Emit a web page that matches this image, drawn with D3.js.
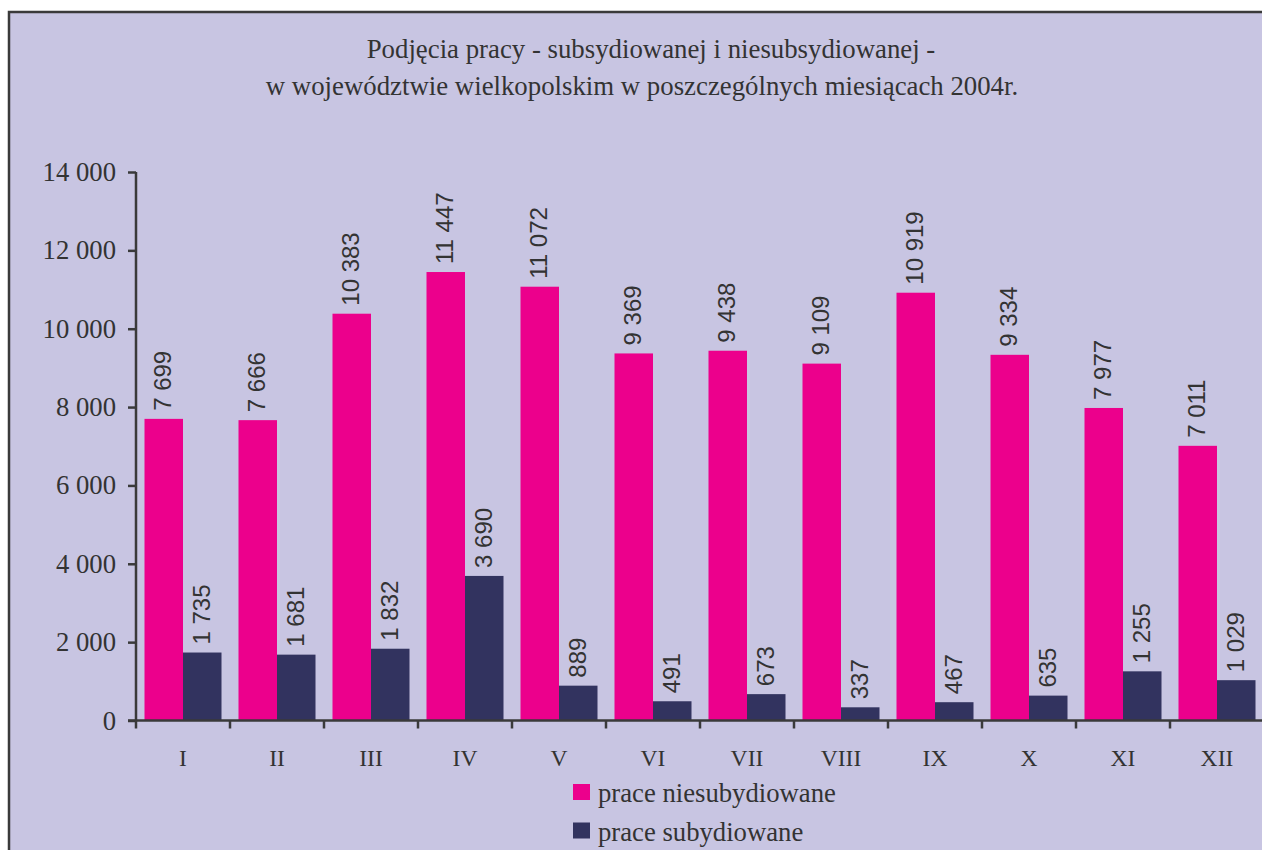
<html>
<head>
<meta charset="utf-8">
<script src="https://d3js.org/d3.v7.min.js"></script>
<style>
body { margin: 0; background: #fff; }
svg text { font-family: 'Liberation Serif', serif; fill: #333; }
svg text.val { font-family: 'Liberation Sans', sans-serif; }
</style>
</head>
<body>
<svg width="1262" height="850"></svg>
<script>
var months = ["I", "II", "III", "IV", "V", "VI", "VII", "VIII", "IX", "X", "XI", "XII"];
var niesub = [7699, 7666, 10383, 11447, 11072, 9369, 9438, 9109, 10919, 9334, 7977, 7011];
var sub = [1735, 1681, 1832, 3690, 889, 491, 673, 337, 467, 635, 1255, 1029];
var seriesNames = ["prace niesubydiowane", "prace subydiowane"];
var yTicks = [0, 2000, 4000, 6000, 8000, 10000, 12000, 14000];

var svg = d3.select("svg");
var pink = "#ec008c", navy = "#32335f", ink = "#3a3a3a";

var fmt = d3.formatLocale({ decimal: ",", thousands: " ", grouping: [3], currency: ["", ""] }).format(",d");

// frame (right and bottom edges run off the picture)
svg.append("rect").attr("x", 9).attr("y", 12).attr("width", 1300).attr("height", 900)
  .attr("fill", "#c8c5e2").attr("stroke", ink).attr("stroke-width", 2.5);

svg.append("text").attr("x", 651).attr("y", 58).attr("text-anchor", "middle")
  .style("font-size", "26.8px").text("Podjęcia pracy - subsydiowanej i niesubsydiowanej -");
svg.append("text").attr("x", 642).attr("y", 95).attr("text-anchor", "middle")
  .style("font-size", "26.8px").text("w województwie wielkopolskim w poszczególnych miesiącach 2004r.");

var x0 = 136, step = 94;
var x = d3.scaleBand().domain(months).range([x0, x0 + step * months.length]).paddingInner(0).paddingOuter(0);
var inner = d3.scaleBand().domain([0, 1]).range([8.5, step - 8.5]);
var y = d3.scaleLinear().domain([0, 14000]).range([720.5, 172]);

var rows = months.map(function (m, i) { return { m: m, v: [niesub[i], sub[i]] }; });

var g = svg.selectAll("g.month").data(rows).enter().append("g")
  .attr("transform", function (d) { return "translate(" + x(d.m) + ",0)"; });

g.selectAll("rect").data(function (d) { return d.v; }).enter().append("rect")
  .attr("x", function (d, i) { return inner(i); })
  .attr("width", inner.bandwidth())
  .attr("y", function (d) { return y(d); })
  .attr("height", function (d) { return y(0) - y(d); })
  .attr("fill", function (d, i) { return i === 0 ? pink : navy; });

g.selectAll("text.val").data(function (d) { return d.v; }).enter().append("text")
  .attr("class", "val")
  .attr("transform", function (d, i) {
    return "translate(" + (inner(i) + inner.bandwidth() / 2 - 1) + "," + (y(d) - 8) + ") rotate(-90)";
  })
  .attr("dy", "0.35em")
  .style("font-size", "24px")
  .text(function (d) { return fmt(d); });

// y axis
var yAxis = d3.axisLeft(y).tickValues(yTicks).tickSize(8).tickPadding(12).tickFormat(fmt);
var ya = svg.append("g").attr("transform", "translate(" + x0 + ",0)").call(yAxis);
ya.attr("font-family", null).attr("font-size", null);
ya.select(".domain").attr("stroke", ink).attr("stroke-width", 2.5).attr("d", "M0," + y(14000) + "V" + y(0));
ya.selectAll(".tick line").attr("stroke", ink).attr("stroke-width", 2.5);
ya.selectAll(".tick text").style("font-size", "26.7px").attr("fill", ink);

// x axis
svg.append("line").attr("x1", x0 - 8).attr("x2", 1262).attr("y1", y(0)).attr("y2", y(0))
  .attr("stroke", ink).attr("stroke-width", 2.5);
svg.selectAll("line.xt").data(months).enter().append("line").attr("class", "xt")
  .attr("x1", function (d) { return x(d); }).attr("x2", function (d) { return x(d); })
  .attr("y1", y(0)).attr("y2", y(0) + 8).attr("stroke", ink).attr("stroke-width", 2.5);
svg.selectAll("text.xl").data(months).enter().append("text").attr("class", "xl")
  .attr("x", function (d) { return x(d) + x.bandwidth() / 2; })
  .attr("y", 766).attr("text-anchor", "middle").style("font-size", "23.6px")
  .text(function (d) { return d; });

// legend
var leg = svg.selectAll("g.leg").data(seriesNames).enter().append("g")
  .attr("transform", function (d, i) { return "translate(573," + (784 + i * 38.5) + ")"; });
leg.append("rect").attr("width", 17).attr("height", 16)
  .attr("fill", function (d, i) { return i === 0 ? pink : navy; });
leg.append("text").attr("x", 25).attr("y", 18).style("font-size", "26.7px").text(function (d) { return d; });
</script>
</body>
</html>
